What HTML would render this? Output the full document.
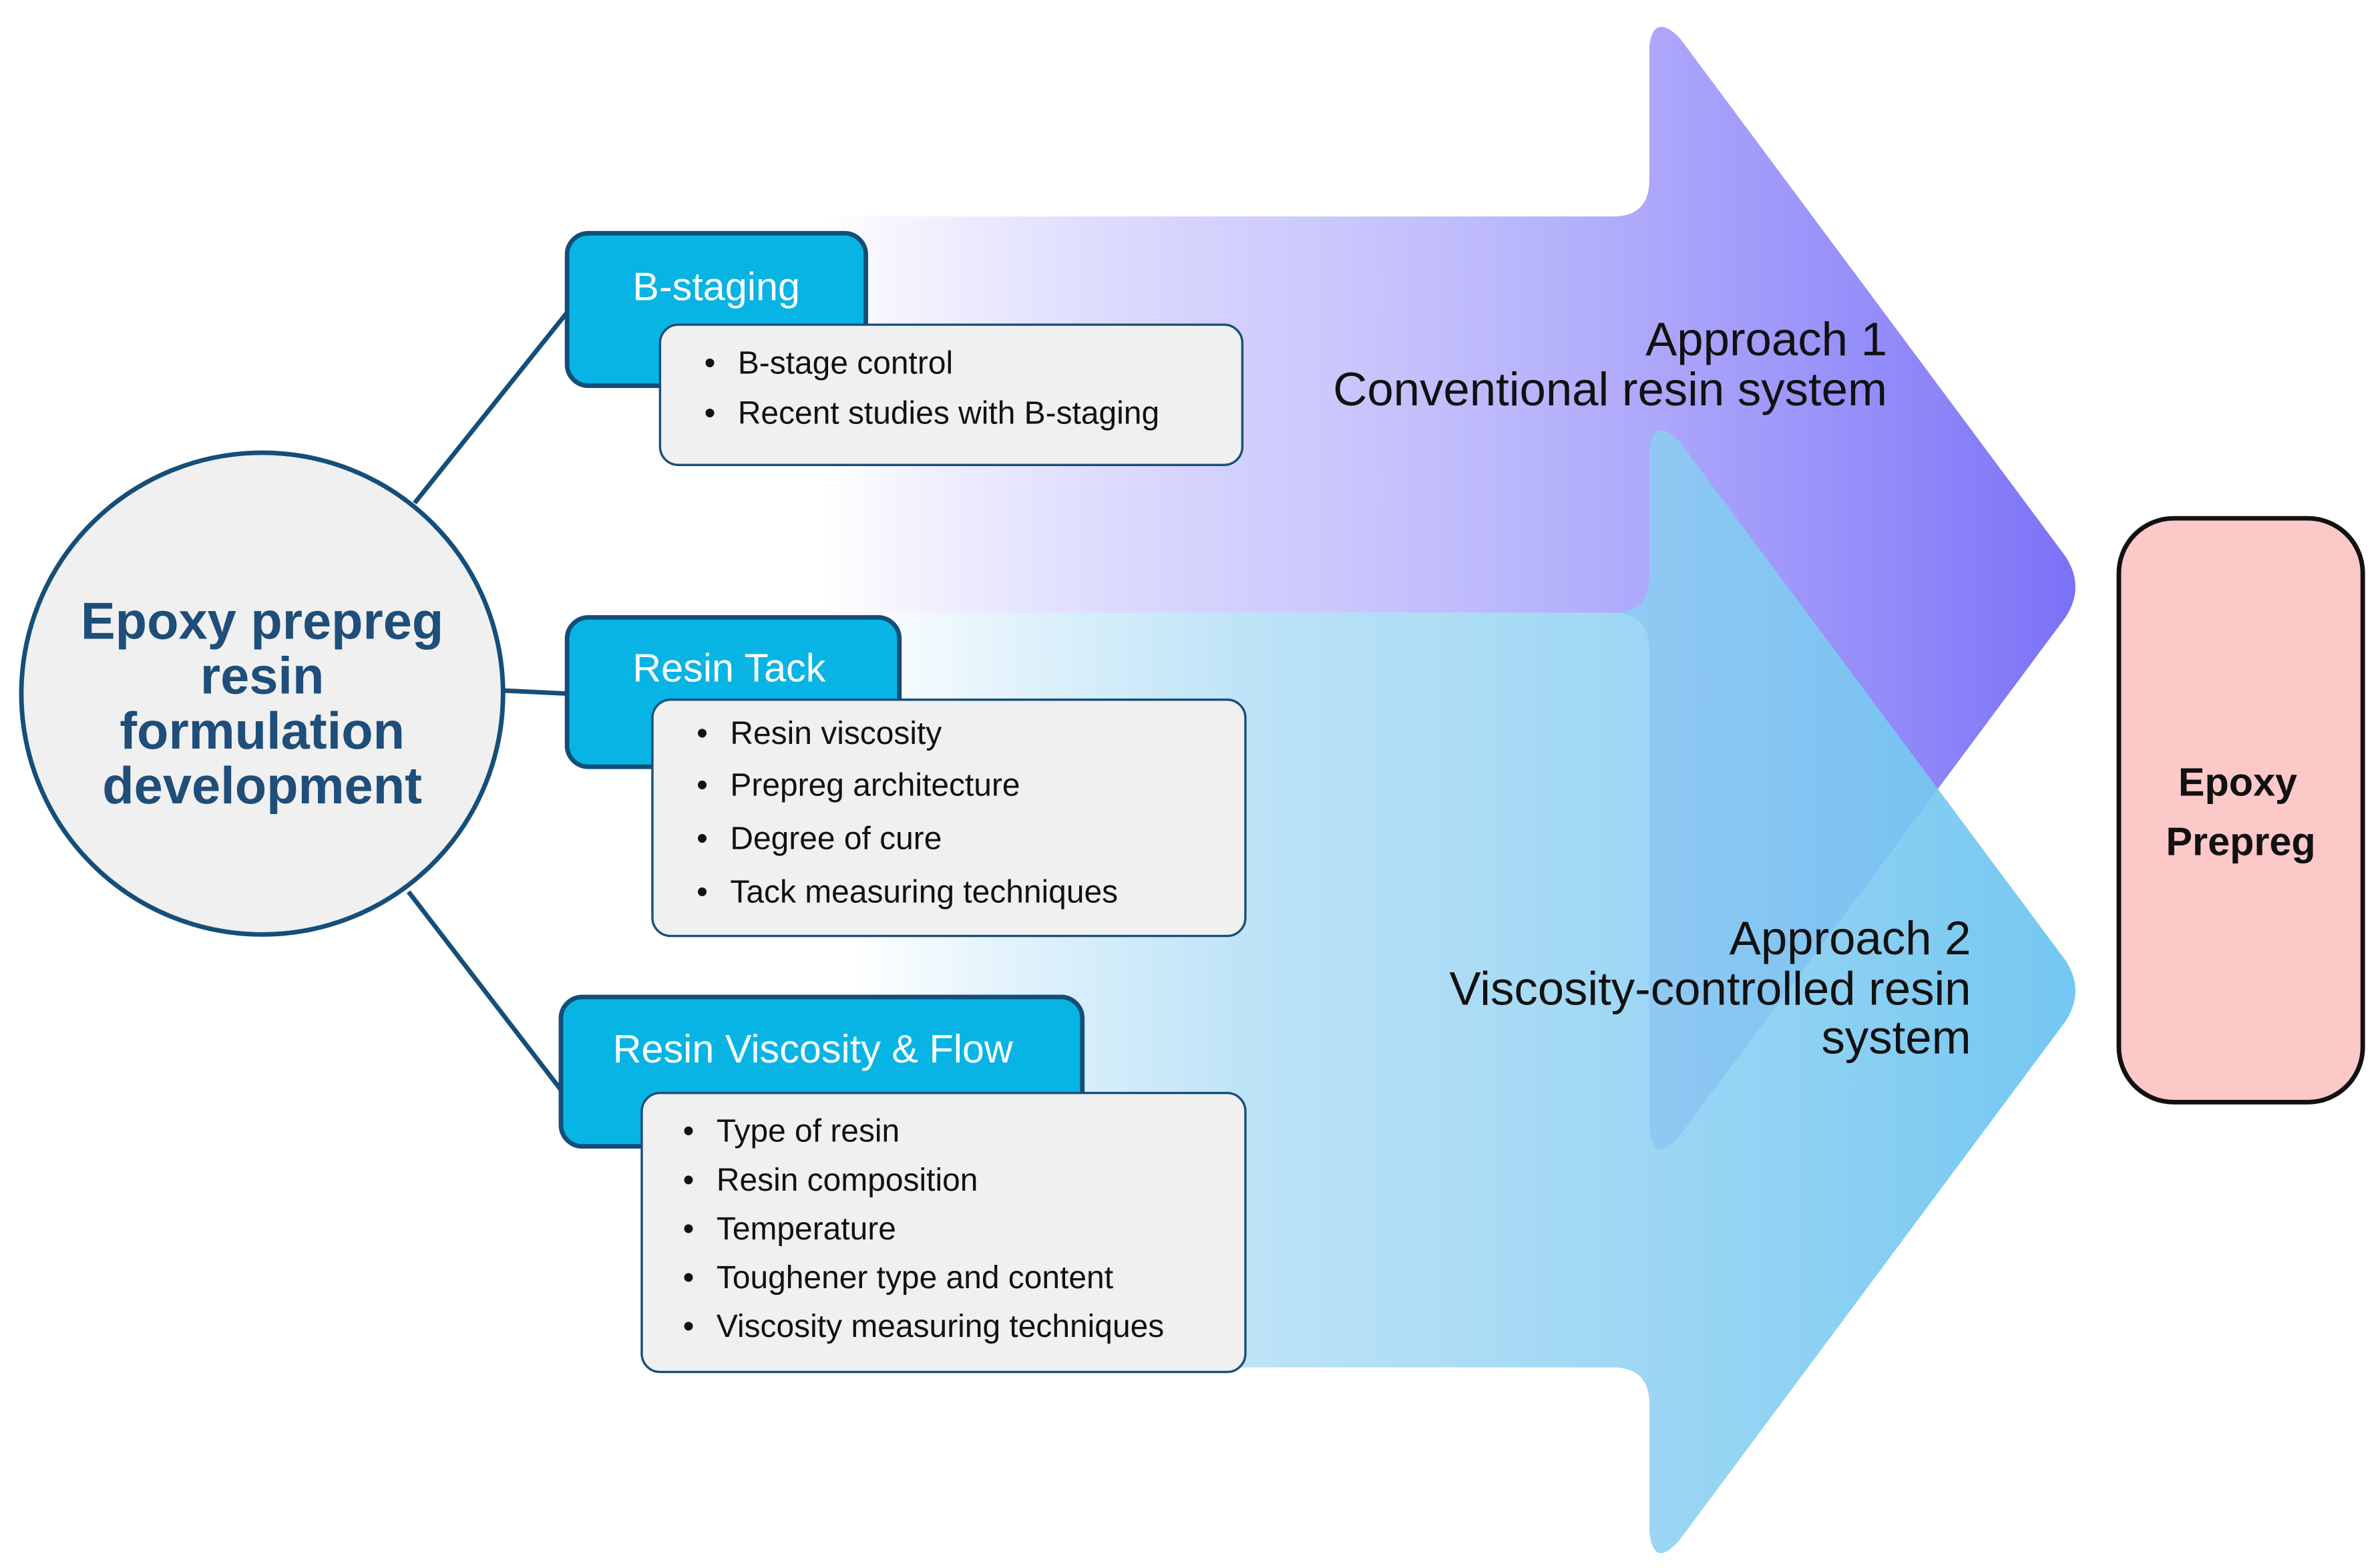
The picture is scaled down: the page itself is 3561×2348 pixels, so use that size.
<!DOCTYPE html>
<html><head><meta charset="utf-8"><style>html,body{margin:0;padding:0;background:#fff}svg{display:block}</style></head>
<body>
<svg width="3561" height="2348" viewBox="0 0 1560 1028.6" preserveAspectRatio="none" xmlns="http://www.w3.org/2000/svg" font-family="Liberation Sans, sans-serif">
<defs>
<linearGradient id="gp" x1="540" y1="0" x2="1365" y2="0" gradientUnits="userSpaceOnUse">
<stop offset="0" stop-color="#8a84f8" stop-opacity="0"/>
<stop offset="0.4" stop-color="#a8a4fb" stop-opacity="0.6"/>
<stop offset="1" stop-color="#7a70f7"/>
</linearGradient>
<linearGradient id="gb" x1="560" y1="0" x2="1365" y2="0" gradientUnits="userSpaceOnUse">
<stop offset="0" stop-color="#8fd0f2" stop-opacity="0"/>
<stop offset="0.35" stop-color="#a3d8f3" stop-opacity="0.75"/>
<stop offset="1" stop-color="#6cc4f0" stop-opacity="0.95"/>
</linearGradient>
</defs>
<path d="M540,142 L1058,142 Q1082,142 1082,118 L1082,30 Q1085,8 1102,25 L1355,365 Q1368,385 1355,405 L1102,745 Q1085,765 1082,740 L1082,426 Q1082,402 1058,402 L540,402 Z" fill="url(#gp)"/>
<path d="M560,402 L1058,402 Q1082,402 1082,378 L1082,295 Q1085,272 1102,290 L1355,630 Q1368,650 1355,670 L1102,1010 Q1085,1030 1082,1005 L1082,921 Q1082,897 1058,897 L560,897 Z" fill="url(#gb)"/>
<g stroke="#154e79" stroke-width="3" fill="none">
<line x1="272" y1="330" x2="372" y2="205"/>
<line x1="330" y1="453" x2="372" y2="455"/>
<line x1="268" y1="585" x2="368" y2="715"/>
</g>
<circle cx="172" cy="455" r="158" fill="#f0f0f0" stroke="#154e79" stroke-width="3"/>
<g fill="#1e4e79" font-weight="bold" font-size="34" text-anchor="middle">
<text x="172" y="419">Epoxy prepreg</text>
<text x="172" y="455">resin</text>
<text x="172" y="491">formulation</text>
<text x="172" y="527">development</text>
</g>
<g fill="#08b4e4" stroke="#124e78" stroke-width="3">
<rect x="372" y="153" width="196" height="100" rx="14"/>
<rect x="372" y="405" width="218" height="98" rx="14"/>
<rect x="368" y="654" width="342" height="98" rx="14"/>
</g>
<g fill="#fff" font-size="26">
<text x="415" y="197">B-staging</text>
<text x="415" y="447">Resin Tack</text>
<text x="402" y="697">Resin Viscosity &amp; Flow</text>
</g>
<g fill="#f0f0f0" stroke="#1b4f7a" stroke-width="1.5">
<rect x="433" y="213" width="382" height="92" rx="12"/>
<rect x="428" y="459" width="389" height="155" rx="12"/>
<rect x="421" y="717" width="396" height="183" rx="12"/>
</g>
<g fill="#111" font-size="21">
<text x="462" y="245">•</text><text x="484" y="245">B-stage control</text>
<text x="462" y="278">•</text><text x="484" y="278">Recent studies with B-staging</text>
<text x="457" y="488">•</text><text x="479" y="488">Resin viscosity</text>
<text x="457" y="522">•</text><text x="479" y="522">Prepreg architecture</text>
<text x="457" y="557">•</text><text x="479" y="557">Degree of cure</text>
<text x="457" y="592">•</text><text x="479" y="592">Tack measuring techniques</text>
<text x="448" y="749">•</text><text x="470" y="749">Type of resin</text>
<text x="448" y="781">•</text><text x="470" y="781">Resin composition</text>
<text x="448" y="813">•</text><text x="470" y="813">Temperature</text>
<text x="448" y="845">•</text><text x="470" y="845">Toughener type and content</text>
<text x="448" y="877">•</text><text x="470" y="877">Viscosity measuring techniques</text>
</g>
<g fill="#111" font-size="31" text-anchor="end">
<text x="1238" y="233">Approach 1</text>
<text x="1238" y="266">Conventional resin system</text>
<text x="1293" y="626">Approach 2</text>
<text x="1293" y="659">Viscosity-controlled resin</text>
<text x="1293" y="691">system</text>
</g>
<rect x="1390" y="340" width="160" height="383" rx="36" fill="#fdc8c8" stroke="#111" stroke-width="3"/>
<g fill="#111" font-weight="bold" font-size="26" text-anchor="middle">
<text x="1468" y="522">Epoxy</text>
<text x="1470" y="561">Prepreg</text>
</g>
</svg>
</body></html>
